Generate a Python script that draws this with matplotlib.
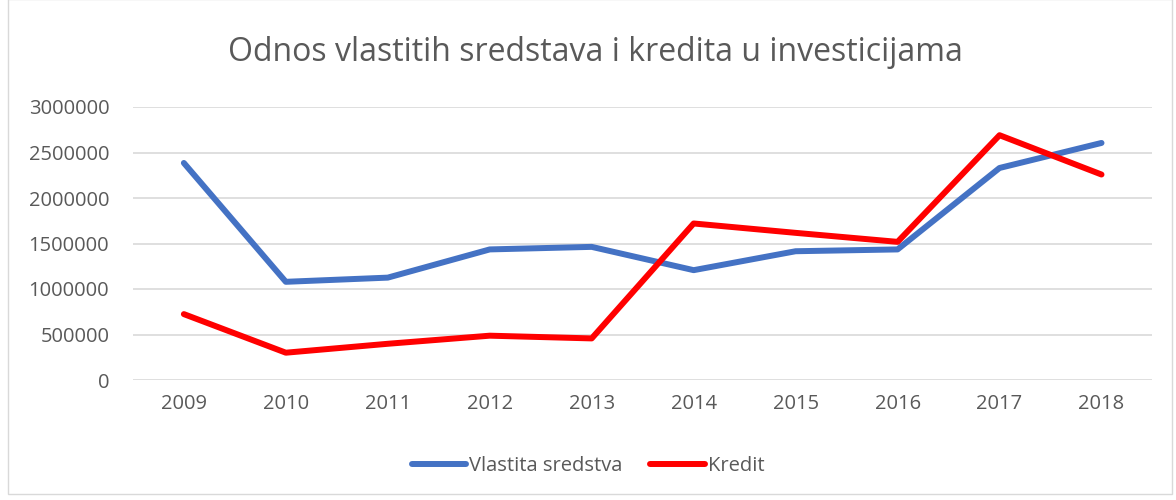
import matplotlib.pyplot as plt
from matplotlib.patches import Rectangle

# data
years = ['2009', '2010', '2011', '2012', '2013', '2014', '2015', '2016', '2017', '2018']
vlastita = [2385000, 1079000, 1125000, 1435000, 1463000, 1207000, 1415000, 1435000, 2330000, 2605000]
kredit = [724000, 300000, 398000, 487000, 457000, 1720000, 1617000, 1518000, 2690000, 2258000]

plt.rcParams['font.family'] = ['Open Sans', 'DejaVu Sans']
grey = '#595959'

fig = plt.figure(figsize=(11.76, 5.0), dpi=100)
fig.patches.append(Rectangle((0.007, 0.012), 0.99, 0.99, transform=fig.transFigure,
                             fill=False, edgecolor='#D9D9D9', linewidth=1))
ax = fig.add_axes([0.113, 0.24, 0.867, 0.546])

x = range(len(years))
ax.plot(x, vlastita, color='#4472C4', linewidth=4.3, solid_capstyle='round',
        solid_joinstyle='round', label='Vlastita sredstva')
ax.plot(x, kredit, color='#FF0000', linewidth=4.3, solid_capstyle='round',
        solid_joinstyle='round', label='Kredit')

ax.set_xlim(-0.5, len(years) - 0.5)
ax.set_ylim(0, 3000000)
ax.set_yticks(range(0, 3000001, 500000))
ax.set_yticklabels([str(v) for v in range(0, 3000001, 500000)])
ax.set_xticks(list(x))
ax.set_xticklabels(years)
ax.grid(axis='y', color='#D9D9D9', linewidth=1.2)
ax.set_axisbelow(True)
for s in ax.spines.values():
    s.set_visible(False)
ax.tick_params(length=0, colors=grey, labelsize=14.5, pad=10)
ax.tick_params(axis='y', pad=17)

fig.text(0.506, 0.895, 'Odnos vlastitih sredstava i kredita u investicijama',
         ha='center', va='center', fontsize=23, color=grey)

fig.legend(loc='center', bbox_to_anchor=(0.5, 0.068), ncol=2, frameon=False,
           fontsize=14.5, labelcolor=grey, handlelength=2.7, handletextpad=0.15,
           columnspacing=1.4)

fig.savefig('out.png', dpi=100)
